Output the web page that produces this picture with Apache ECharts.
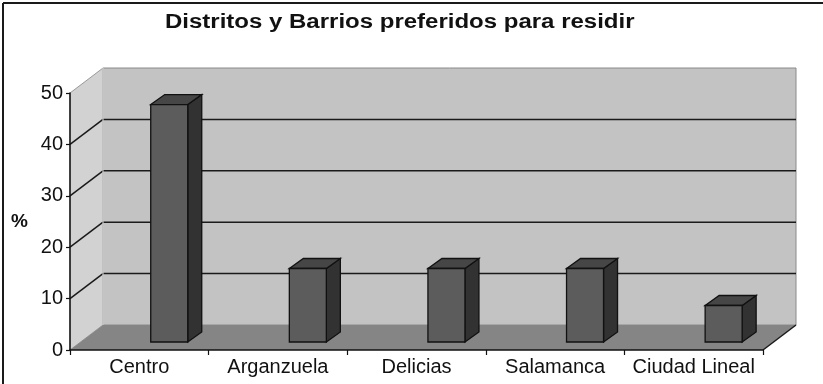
<!DOCTYPE html>
<html>
<head>
<meta charset="utf-8">
<script src="https://cdn.jsdelivr.net/npm/echarts@6/dist/echarts.min.js"></script>
<style>
  html, body { margin: 0; padding: 0; background: #ffffff; }
  #chart { width: 823px; height: 384px; }
</style>
</head>
<body>
<div id="chart"></div>
<script>
// Districts and their share of preferences (%)
const categories = ['Centro', 'Arganzuela', 'Delicias', 'Salamanca', 'Ciudad Lineal'];
const values = [46.2, 14.3, 14.3, 14.3, 7.1];
const yMin = 0, yMax = 50, yStep = 10;
const gridValues = [10, 20, 30, 40];
const titleText = 'Distritos y Barrios preferidos para residir';

// Pseudo-3D geometry (pixels)
const WALL_DX = 33, WALL_DY = -25;    // depth of the box
const BAR_SHIFT = 0.216;              // bar offset into the box (fraction of band)
const BAR_LIFT = -8;                  // vertical lift of the bar base
const BAR_W = 0.267;                  // bar width (fraction of band)
const BAR_DX = 14, BAR_DY = -10;      // bar depth

const chart = echarts.init(document.getElementById('chart'), null, { renderer: 'canvas' });

function poly(points, fill, stroke, lw) {
  return { type: 'polygon', shape: { points: points },
    style: { fill: fill, stroke: stroke || null, lineWidth: lw || 0 } };
}
function line(p1, p2, stroke, lw) {
  return { type: 'line', shape: { x1: p1[0], y1: p1[1], x2: p2[0], y2: p2[1] },
    style: { stroke: stroke, lineWidth: lw } };
}

// Back wall, side wall, floor and the gridlines on them
function renderBox(params, api) {
  const band = api.size([1, 0])[0];
  const x0 = api.coord([0, yMin])[0] - band / 2;
  const x1 = api.coord([categories.length - 1, yMin])[0] + band / 2;
  const yb = api.coord([0, yMin])[1];
  const yt = api.coord([0, yMax])[1];
  const children = [];
  // side wall
  children.push(poly([[x0, yb], [x0, yt], [x0 + WALL_DX, yt + WALL_DY], [x0 + WALL_DX, yb + WALL_DY]], '#d2d2d2', '#9a9a9a', 1));
  // back wall
  children.push(poly([[x0 + WALL_DX, yt + WALL_DY], [x1 + WALL_DX, yt + WALL_DY], [x1 + WALL_DX, yb + WALL_DY], [x0 + WALL_DX, yb + WALL_DY]], '#c3c3c3', '#8a8a8a', 1));
  // gridlines
  gridValues.forEach(function (v) {
    const y = api.coord([0, v])[1];
    children.push(line([x0, y], [x0 + WALL_DX, y + WALL_DY], '#1a1a1a', 1.5));
    children.push(line([x0 + WALL_DX, y + WALL_DY], [x1 + WALL_DX, y + WALL_DY], '#1a1a1a', 1.5));
  });
  // floor
  children.push(poly([[x0, yb], [x0 + WALL_DX, yb + WALL_DY], [x1 + WALL_DX, yb + WALL_DY], [x1, yb]], '#858585', null, 0));
  children.push(line([x1, yb], [x1 + WALL_DX, yb + WALL_DY], '#1a1a1a', 1.5));
  children.push(line([x0 + WALL_DX, yb + WALL_DY], [x0 + WALL_DX, yt + WALL_DY], '#e2e2e2', 1));
  return { type: 'group', children: children };
}

// 3D bar: front face, top face and side face
function renderBar(params, api) {
  const i = api.value(0);
  const v = api.value(1);
  const band = api.size([1, 0])[0];
  const base = api.coord([i, yMin]);
  const top = api.coord([i, v]);
  const cx = base[0] + band * BAR_SHIFT;
  const w = band * BAR_W;
  const xl = cx - w / 2, xr = cx + w / 2;
  const yb = base[1] + BAR_LIFT, yt = top[1] + BAR_LIFT;
  const stroke = '#111111', lw = 1.3;
  return {
    type: 'group',
    children: [
      poly([[xr, yb], [xr + BAR_DX, yb + BAR_DY], [xr + BAR_DX, yt + BAR_DY], [xr, yt]], '#323232', stroke, lw),
      poly([[xl, yt], [xl + BAR_DX, yt + BAR_DY], [xr + BAR_DX, yt + BAR_DY], [xr, yt]], '#464646', stroke, lw),
      poly([[xl, yb], [xl, yt], [xr, yt], [xr, yb]], '#5c5c5c', stroke, lw)
    ]
  };
}

const option = {
  animation: false,
  backgroundColor: '#ffffff',
  grid: { left: 70, right: 60, top: 93, bottom: 34, containLabel: false },
  xAxis: {
    type: 'category',
    data: categories,
    z: 5,
    axisLine: { lineStyle: { color: '#111111', width: 1.5 } },
    axisTick: { show: true, length: 5, lineStyle: { color: '#111111', width: 1.2 } },
    axisLabel: { interval: 0, color: '#111111', fontFamily: 'Liberation Sans', fontSize: 20, margin: 7 },
    splitLine: { show: false }
  },
  yAxis: {
    type: 'value',
    min: yMin, max: yMax, interval: yStep,
    z: 5,
    name: '%',
    nameLocation: 'middle',
    nameRotate: 0,
    nameGap: 42,
    nameTextStyle: { color: '#111111', fontFamily: 'Liberation Sans', fontSize: 19, fontWeight: 'bold' },
    axisLine: { show: true, lineStyle: { color: '#111111', width: 1.5 } },
    axisTick: { show: true, length: 4, lineStyle: { color: '#111111', width: 1.2 } },
    axisLabel: { color: '#111111', fontFamily: 'Liberation Sans', fontSize: 20, margin: 7 },
    splitLine: { show: false }
  },
  graphic: [
    { type: 'line', shape: { x1: 3, y1: 3, x2: 823, y2: 3 }, style: { stroke: '#1a1a1a', lineWidth: 2 } },
    { type: 'line', shape: { x1: 3, y1: 3, x2: 3, y2: 384 }, style: { stroke: '#1a1a1a', lineWidth: 2 } },
    {
      type: 'text',
      x: 165, y: 12,
      scaleX: 1.2,
      style: {
        text: titleText,
        fill: '#111111',
        font: 'bold 20px "Liberation Sans"',
        textAlign: 'left',
        textVerticalAlign: 'top'
      }
    }
  ],
  series: [
    {
      type: 'custom',
      z: 1,
      silent: true,
      renderItem: renderBox,
      data: [[0, 0]]
    },
    {
      type: 'custom',
      z: 2,
      renderItem: renderBar,
      data: values.map(function (v, i) { return [i, v]; })
    }
  ]
};

chart.setOption(option);
</script>
</body>
</html>
